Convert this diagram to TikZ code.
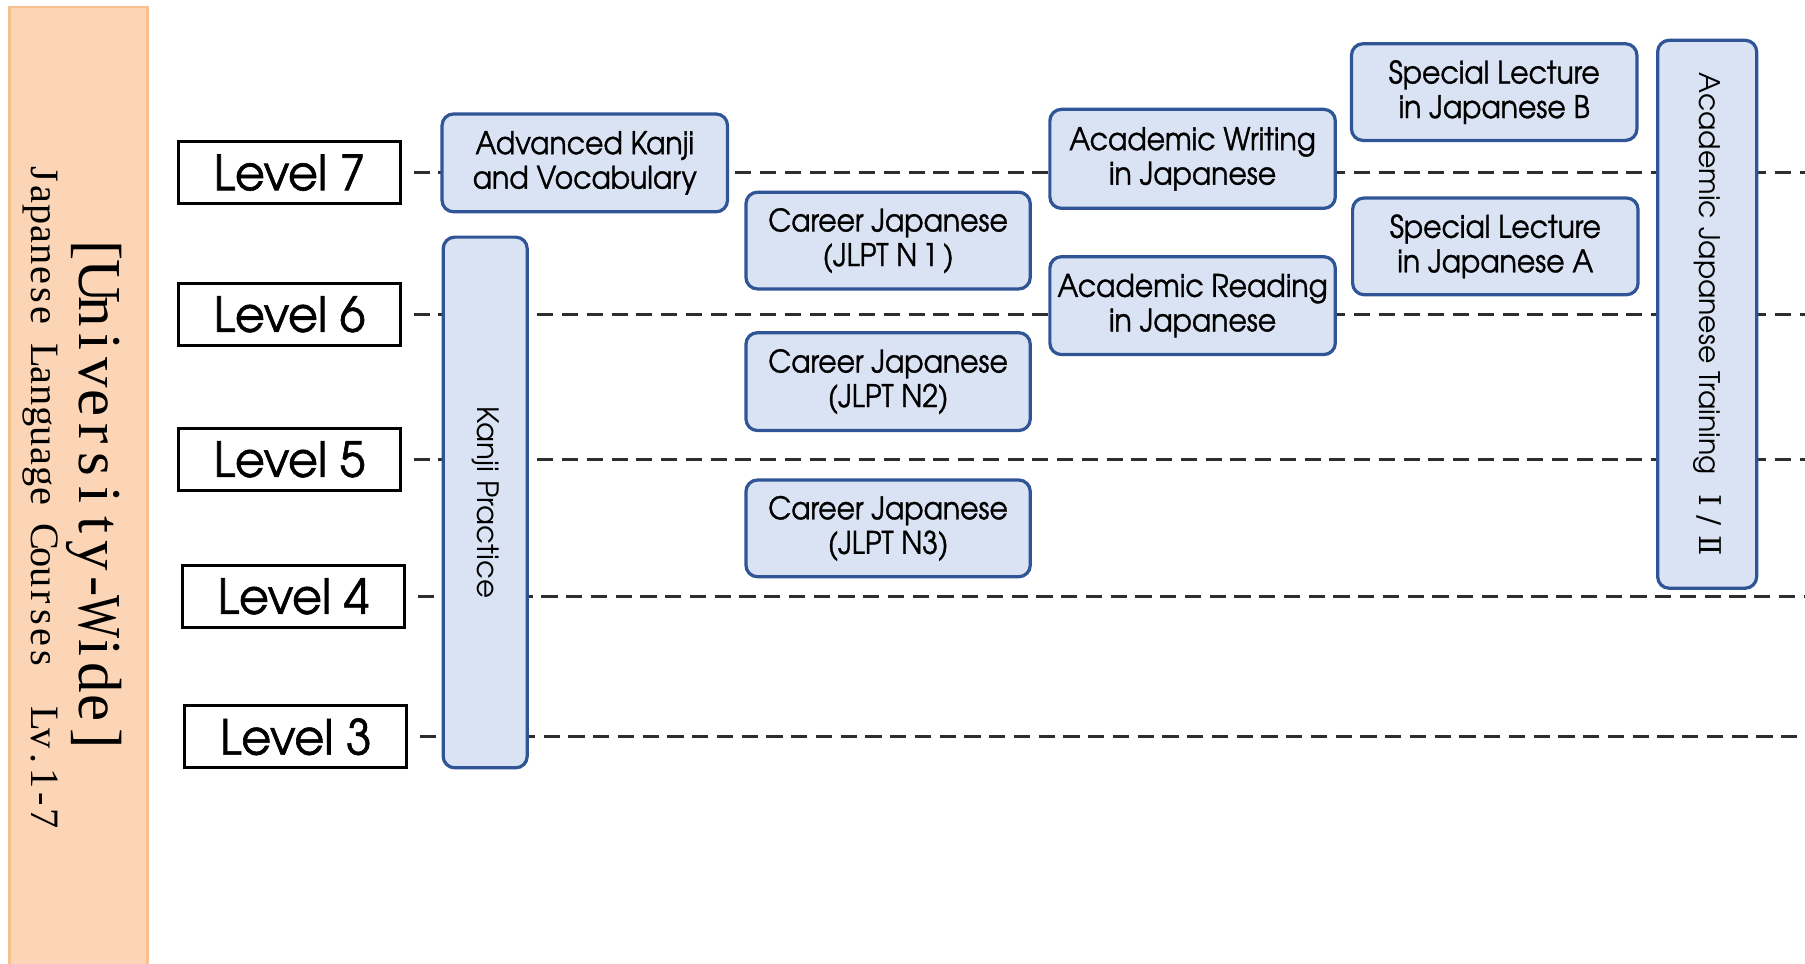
\documentclass[tikz,border=0pt]{standalone}
\usepackage{fontspec}
\newfontfamily\gfont[Extension=.otf]{texgyreadventor-regular}
\newfontfamily\gfontm[Extension=.otf, FakeBold=1.1, FakeStretch=0.91]{texgyreadventor-regular}
\newfontfamily\gfontl[Extension=.otf, FakeBold=1.3, FakeStretch=0.95]{texgyreadventor-regular}
\newfontfamily\mincho{Liberation Serif}
\newfontfamily\numfont{DejaVu Serif}
\definecolor{cfill}{HTML}{DAE3F3}
\definecolor{cline}{HTML}{2F5597}
\definecolor{ofill}{HTML}{FBD5B5}
\definecolor{oline}{HTML}{F8BF8F}
\newcommand\mc[1]{\makebox[0.5em]{#1}}
\begin{document}
\begin{tikzpicture}[x=1pt,y=-1pt,
 band/.style={draw=oline, fill=ofill, line width=2.4pt, minimum width=120pt, minimum height=850pt, inner sep=0pt},
 lvl/.style={draw=black, fill=white, line width=2.6pt, minimum width=193pt, minimum height=54pt, inner sep=0pt, font=\gfontl\fontsize{42}{44}\selectfont},
 course/.style={draw=cline, fill=cfill, line width=2.8pt, rounded corners=10pt, inner sep=0pt, align=center, minimum width=248pt, minimum height=85pt, font=\gfontm\fontsize{27}{30}\selectfont},
 vcourse/.style={course, rotate=-90, font=\gfont\fontsize{25.5}{30}\selectfont},
 levline/.style={draw=black!82, line width=2.2pt, dash pattern=on 14pt off 7.5pt, shorten <=10pt},
]
\useasboundingbox (0,0) rectangle (1568,837);
\node[band] (band) at (68,431) {};
\node[rotate=-90, font=\mincho\fontsize{53}{53}\selectfont] (uw) at (82,430)
 {\mc{[}\mc{U}\mc{n}\mc{i}\mc{v}\mc{e}\mc{r}\mc{s}\mc{i}\mc{t}\mc{y}\mc{-}\mc{\scalebox{0.75}[1]{W}}\mc{i}\mc{d}\mc{e}\mc{]}};
\node[rotate=-90, font=\mincho\fontsize{35}{35}\selectfont] (jlc) at (35,431.5)
 {\mc{J}\mc{a}\mc{p}\mc{a}\mc{n}\mc{e}\mc{s}\mc{e}\mc{ }\mc{L}\mc{a}\mc{n}\mc{g}\mc{u}\mc{a}\mc{g}\mc{e}\mc{ }\mc{C}\mc{o}\mc{u}\mc{r}\mc{s}\mc{e}\mc{s}\mc{ }\mc{ }\mc{L}\mc{v}\mc{.}\mc{1}\mc{-}\mc{7}};
\node[lvl] (L7) at (251.5,150) {Level 7};
\node[lvl] (L6) at (251.5,273) {Level 6};
\node[lvl] (L5) at (251.5,399) {Level 5};
\node[lvl] (L4) at (255,518) {Level 4};
\node[lvl] (L3) at (257,640) {Level 3};
\coordinate (R) at (1568,0);
\foreach \l in {L7,L6,L5,L4,L3}{\draw[levline] (\l.east) -- (\l.east -| R);}
\node[course] (adv) at (508,141.5) {Advanced Kanji\\and Vocabulary};
\node[vcourse, minimum width=461pt, minimum height=73pt] (kp) at (421.5,436.5) {Kanji Practice};
\node[course, minimum width=247pt, minimum height=84pt] (cj1) at (771.5,209) {Career Japanese\\(JLPT N\,1\,)};
\node[course, minimum width=247pt] (cj2) at (771.5,331.5) {Career Japanese\\(JLPT N2)};
\node[course, minimum width=247pt, minimum height=84pt] (cj3) at (771.5,459) {Career Japanese\\(JLPT N3)};
\node[course, minimum height=86pt] (aw) at (1036,138) {Academic Writing\\in Japanese};
\node[course] (ar) at (1036,265.5) {Academic Reading\\in Japanese};
\node[course, minimum height=84pt] (slb) at (1298,80) {Special Lecture\\in Japanese B};
\node[course, minimum height=84pt] (sla) at (1299,214) {Special Lecture\\in Japanese A};
\node[vcourse, minimum width=476pt, minimum height=86pt, font=\gfont\fontsize{24.6}{30}\selectfont] (ajt) at (1483,273) {Academic Japanese Training\hspace{0.7em}{\numfont\fontsize{26}{30}\selectfont Ⅰ / Ⅱ}};
\end{tikzpicture}
\end{document}
